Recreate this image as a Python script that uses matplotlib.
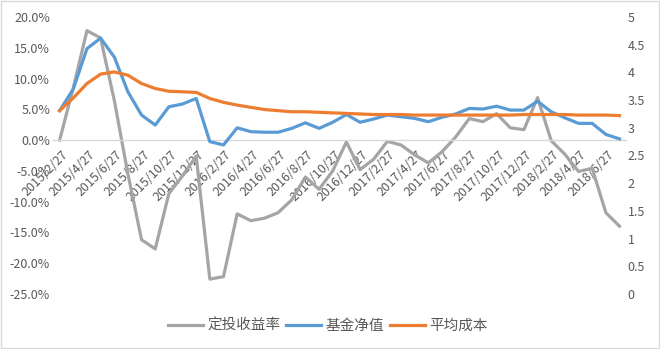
import matplotlib
matplotlib.use('Agg')
import matplotlib.pyplot as plt
from matplotlib.patches import Rectangle
from matplotlib.ticker import FuncFormatter
from matplotlib.transforms import ScaledTranslation

plt.rcParams['font.family'] = ['Noto Sans CJK SC', 'DejaVu Sans']

# monthly dates, 2015/2/27 .. 2018/7/27
dates = ['2015/2/27', '2015/3/27', '2015/4/27', '2015/5/27', '2015/6/27', '2015/7/27',
         '2015/8/27', '2015/9/27', '2015/10/27', '2015/11/27', '2015/12/27',
         '2016/1/27', '2016/2/27', '2016/3/27', '2016/4/27', '2016/5/27', '2016/6/27',
         '2016/7/27', '2016/8/27', '2016/9/27', '2016/10/27', '2016/11/27', '2016/12/27',
         '2017/1/27', '2017/2/27', '2017/3/27', '2017/4/27', '2017/5/27', '2017/6/27',
         '2017/7/27', '2017/8/27', '2017/9/27', '2017/10/27', '2017/11/27', '2017/12/27',
         '2018/1/27', '2018/2/27', '2018/3/27', '2018/4/27', '2018/5/27', '2018/6/27',
         '2018/7/27']

# 定投收益率 (%), left axis
returns = [0.0, 8.5, 17.8, 16.6, 6.5, -5.5, -16.2, -17.7, -8.7, -5.8, -2.6,
           -22.6, -22.2, -12.0, -13.1, -12.7, -11.8, -9.7, -6.0, -8.0, -5.0,
           -0.3, -4.8, -3.1, -0.2, -0.8, -2.4, -3.7, -1.9, 0.5, 3.5,
           3.0, 4.3, 2.0, 1.7, 6.9, -0.1, -2.3, -5.1, -4.6, -11.8, -14.0]

# 基金净值, right axis
nav = [3.31, 3.70, 4.43, 4.62, 4.28, 3.65, 3.23, 3.05, 3.38, 3.43, 3.53,
       2.75, 2.69, 3.00, 2.93, 2.92, 2.92, 2.99, 3.09, 2.99, 3.10,
       3.24, 3.10, 3.16, 3.23, 3.20, 3.17, 3.11, 3.19, 3.25, 3.35,
       3.34, 3.39, 3.32, 3.32, 3.48, 3.29, 3.18, 3.08, 3.08, 2.88, 2.80]

# 平均成本, right axis
avg_cost = [3.31, 3.54, 3.80, 3.97, 4.01, 3.95, 3.80, 3.71, 3.66, 3.65, 3.64,
            3.53, 3.46, 3.41, 3.37, 3.33, 3.31, 3.29, 3.29, 3.28, 3.27,
            3.26, 3.25, 3.24, 3.24, 3.24, 3.23, 3.23, 3.23, 3.23, 3.23,
            3.23, 3.23, 3.23, 3.24, 3.24, 3.24, 3.24, 3.23, 3.23, 3.23, 3.22]

GRAY = '#A5A5A5'
BLUE = '#5B9BD5'
ORANGE = '#ED7D31'
TXT = '#595959'

fig = plt.figure(figsize=(6.6, 3.49), dpi=100)
ax = fig.add_axes([0.080, 0.158, 0.869, 0.793])
ax2 = ax.twinx()

x = list(range(len(dates)))
l1, = ax.plot(x, returns, color=GRAY, lw=2.3, label='定投收益率', solid_joinstyle='round')
l2, = ax2.plot(x, nav, color=BLUE, lw=2.3, label='基金净值', solid_joinstyle='round')
l3, = ax2.plot(x, avg_cost, color=ORANGE, lw=2.3, label='平均成本', solid_joinstyle='round')

ax.set_xlim(-0.5, len(dates) - 0.5)
ax.set_ylim(-25, 20)
ax2.set_ylim(0, 5)
ax.set_yticks(range(-25, 21, 5))
ax.yaxis.set_major_formatter(FuncFormatter(lambda v, p: f'{v:.1f}%'))
ax2.set_yticks([0, 0.5, 1, 1.5, 2, 2.5, 3, 3.5, 4, 4.5, 5])
ax2.set_yticklabels(['0', '0.5', '1', '1.5', '2', '2.5', '3', '3.5', '4', '4.5', '5'])

for a in (ax, ax2):
    for s in a.spines.values():
        s.set_visible(False)
ax.spines['bottom'].set_visible(True)
ax.spines['bottom'].set_position(('data', 0))
ax.spines['bottom'].set_color('#D9D9D9')
ax.spines['bottom'].set_linewidth(1)

ax.tick_params(axis='y', length=0, pad=2, labelsize=9, labelcolor=TXT)
ax2.tick_params(axis='y', length=0, pad=1, labelsize=9, labelcolor=TXT)
ax.tick_params(axis='x', length=0, pad=2, labelsize=9, labelcolor=TXT)

ax.set_xticks(x[::2])
ax.set_xticklabels(dates[::2], rotation=45, ha='right', va='center',
                   rotation_mode='anchor')
offset = ScaledTranslation(6 / 100, -10 / 100, fig.dpi_scale_trans)
for lbl in ax.get_xticklabels():
    lbl.set_transform(lbl.get_transform() + offset)

ax.set_zorder(1)
ax2.set_zorder(2)
ax.patch.set_visible(False)
ax2.patch.set_visible(False)

fig.legend(handles=[l1, l2, l3], loc='center', bbox_to_anchor=(0.497, 0.066),
           ncol=3, frameon=False, fontsize=10.5, handlelength=2.4,
           handletextpad=0.3, columnspacing=0.4, labelcolor=TXT)

fig.patches.append(Rectangle((0.002, 0.004), 0.996, 0.992, transform=fig.transFigure,
                             fill=False, edgecolor='#D9D9D9', lw=1))

fig.savefig('out.png', dpi=100)
